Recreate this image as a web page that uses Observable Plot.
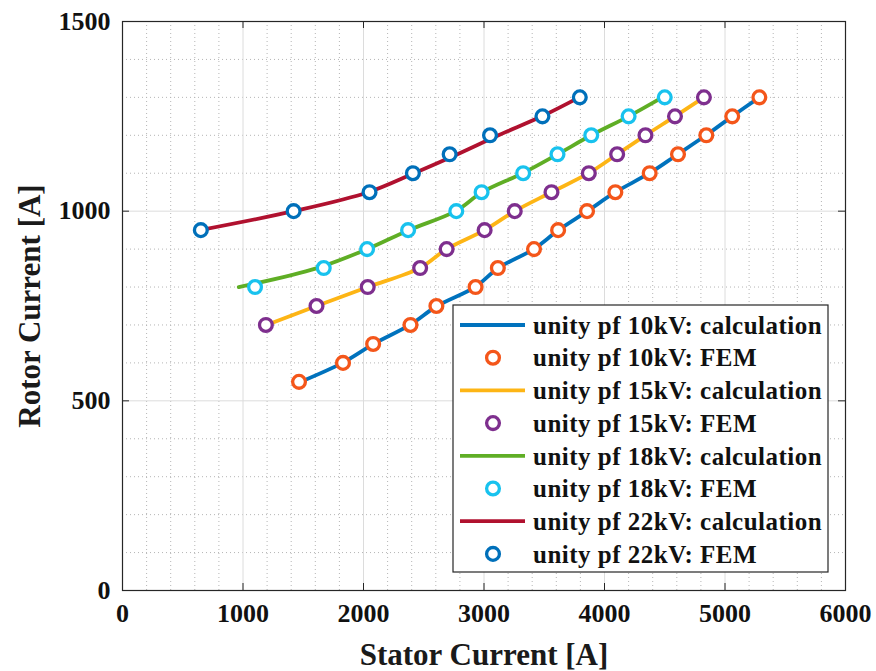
<!DOCTYPE html>
<html><head><meta charset="utf-8">
<script src="https://cdn.jsdelivr.net/npm/d3@7"></script>
<script src="https://cdn.jsdelivr.net/npm/@observablehq/plot@0.6"></script>
<style>body{margin:0;background:#fff} #chart{width:876px;height:671px;position:relative}</style>
</head><body><div id="chart"></div>
<script>
// ---- data ----
const seriesNames = ["unity pf 10kV", "unity pf 15kV", "unity pf 18kV", "unity pf 22kV"];
const calcColors = ["#0072BD", "#FDB515", "#5FAE25", "#B0112F"];
const femColors  = ["#F4561A", "#7E2F8E", "#18C2EE", "#0070BA"];

const rotor10 = [550,600,650,700,750,800,850,900,950,1000,1050,1100,1150,1200,1250,1300];
const stator10Calc = [1478,1825,2085,2385,2610,2925,3118,3412,3618,3858,4090,4372,4608,4842,5060,5285];
const stator10FEM  = [1465,1830,2080,2390,2605,2930,3115,3415,3615,3855,4090,4375,4610,4845,5060,5285];

const rotor15 = [700,750,800,850,900,950,1000,1050,1100,1150,1200,1250,1300];
const stator15Calc = [1195,1610,2035,2465,2690,3005,3255,3560,3868,4105,4340,4585,4825];
const stator15FEM  = [1190,1610,2035,2470,2690,3005,3255,3560,3870,4105,4340,4585,4825];

const rotor18 = [800,850,900,950,1000,1050,1100,1150,1200,1250,1300];
const stator18Calc = [965,1615,2030,2375,2765,2985,3320,3610,3890,4200,4480];
const stator18FEM  = [1100,1670,2030,2370,2770,2980,3325,3610,3890,4200,4500];

const rotor22 = [950,1000,1050,1100,1150,1200,1250,1300];
const stator22Calc = [645,1420,2040,2420,2780,3120,3480,3790];
const stator22FEM  = [650,1420,2050,2410,2715,3050,3485,3795];

const xTickValues = [0,1000,2000,3000,4000,5000,6000];
const yTickValues = [0,500,1000,1500];
const xMinorValues = d3.range(0, 6001, 200).filter(v => v % 1000 !== 0);
const yMinorValues = d3.range(0, 1501, 100).filter(v => v % 500 !== 0);

const xLabel = "Stator Current [A]";
const yLabel = "Rotor Current [A]";

// ---- build tables ----
const rotorArr = [rotor10, rotor15, rotor18, rotor22];
const calcArr = [stator10Calc, stator15Calc, stator18Calc, stator22Calc];
const femArr = [stator10FEM, stator15FEM, stator18FEM, stator22FEM];
const calcRows = seriesNames.map((s, i) => rotorArr[i].map((r, j) => ({series: s, rotor: r, stator: calcArr[i][j]})));
const femRows = seriesNames.map((s, i) => rotorArr[i].map((r, j) => ({series: s, rotor: r, stator: femArr[i][j]})));

const W = 876, H = 671;
const mL = 122, mR = 31, mT = 21, mB = 81;
const font = "'Liberation Serif', 'Times New Roman', serif";
const frameColor = "#262626";
const tickLen = 7;
const fw = W - mL - mR, fh = H - mT - mB;
const dotR = 6.4, dotSW = 3.3, lineSW = 3.8;

const chart = Plot.plot({
  width: W, height: H,
  marginLeft: mL, marginRight: mR, marginTop: mT, marginBottom: mB,
  style: {fontFamily: font, fontWeight: "bold", fontSize: "26px", background: "#fff", color: "#111"},
  x: {domain: [0, 6000]},
  y: {domain: [0, 1500]},
  marks: [
    Plot.gridX(xMinorValues, {stroke: "#b5b5b5", strokeOpacity: 1, strokeWidth: 1, strokeDasharray: "1,3"}),
    Plot.gridY(yMinorValues, {stroke: "#b5b5b5", strokeOpacity: 1, strokeWidth: 1, strokeDasharray: "1,3"}),
    Plot.gridX(xTickValues, {stroke: "#dcdcdc", strokeOpacity: 1, strokeWidth: 1}),
    Plot.gridY(yTickValues, {stroke: "#dcdcdc", strokeOpacity: 1, strokeWidth: 1}),
    ...calcRows.map((rows, i) => Plot.line(rows, {x: "stator", y: "rotor", stroke: calcColors[i], strokeWidth: lineSW, curve: "catmull-rom"})),
    ...femRows.map((rows, i) => Plot.dot(rows, {x: "stator", y: "rotor", r: dotR, stroke: femColors[i], strokeWidth: dotSW, fill: "white"})),
    Plot.frame({stroke: frameColor, strokeWidth: 1.2}),
    Plot.tickX(xTickValues, {x: d => d, insetTop: fh - tickLen, stroke: frameColor}),
    Plot.tickX(xTickValues, {x: d => d, insetBottom: fh - tickLen, stroke: frameColor}),
    Plot.tickY(yTickValues, {y: d => d, insetRight: fw - tickLen, stroke: frameColor}),
    Plot.tickY(yTickValues, {y: d => d, insetLeft: fw - tickLen, stroke: frameColor}),
    Plot.axisX(xTickValues, {tickSize: 0, tickPadding: 13, label: null, tickFormat: d => String(d), fontSize: 26, fontWeight: "bold", fill: "#111"}),
    Plot.axisY(yTickValues, {tickSize: 0, tickPadding: 12, label: null, tickFormat: d => String(d), fontSize: 26, fontWeight: "bold", fill: "#111"}),
    Plot.text([xLabel], {text: d => d, frameAnchor: "bottom", textAnchor: "middle", lineAnchor: "middle", dy: 65, fontSize: 31, fontWeight: "bold", fill: "#1a1a1a"}),
    Plot.text([yLabel], {text: d => d, frameAnchor: "left", textAnchor: "middle", lineAnchor: "middle", dx: -92, rotate: -90, fontSize: 31, fontWeight: "bold", fill: "#1a1a1a"})
  ]
});

// ---- legend (inside the axes, lower right) ----
const svg = d3.select(chart);
const lg = svg.append("g").attr("class", "legend");
const bx = 453, by = 305, bw = 375, bh = 267;
lg.append("rect").attr("x", bx).attr("y", by).attr("width", bw).attr("height", bh)
  .attr("fill", "#fff").attr("stroke", frameColor).attr("stroke-width", 1.2);
const entries = [];
seriesNames.forEach((s, i) => {
  entries.push({label: s + ": calculation", type: "line", color: calcColors[i]});
  entries.push({label: s + ": FEM", type: "dot", color: femColors[i]});
});
const rowH = 32.7, firstY = by + 20;
entries.forEach((e, k) => {
  const cy = firstY + k * rowH;
  if (e.type === "line") {
    lg.append("line").attr("x1", bx + 7).attr("x2", bx + 72).attr("y1", cy).attr("y2", cy)
      .attr("stroke", e.color).attr("stroke-width", lineSW);
  } else {
    lg.append("circle").attr("cx", bx + 40).attr("cy", cy).attr("r", dotR)
      .attr("fill", "#fff").attr("stroke", e.color).attr("stroke-width", dotSW);
  }
  lg.append("text").attr("x", bx + 80).attr("y", cy).attr("dy", "0.35em")
    .attr("text-anchor", "start")
    .attr("font-family", font).attr("font-weight", "bold").attr("font-size", 25)
    .attr("letter-spacing", "0.5px").attr("fill", "#111").text(e.label);
});

document.getElementById("chart").appendChild(chart);
</script>
</body></html>
